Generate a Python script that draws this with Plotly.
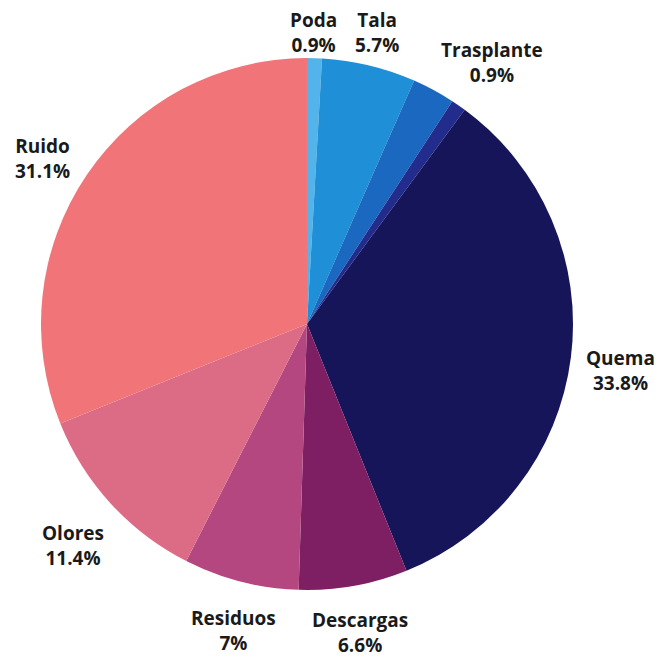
import plotly.graph_objects as go

# Data (clockwise from 12 o'clock)
labels = ["Poda", "Tala", "Otro", "Trasplante", "Quema", "Descargas", "Residuos", "Olores", "Ruido"]
values = [0.9, 5.7, 2.6, 0.9, 33.8, 6.6, 7.0, 11.4, 31.1]
value_text = ["0.9%", "5.7%", "", "0.9%", "33.8%", "6.6%", "7%", "11.4%", "31.1%"]
colors = ["#52B4EA", "#1F8FD8", "#1A68C0", "#222C8C", "#17155A",
          "#7E1F63", "#B4477F", "#DC6B86", "#F17479"]

W, H = 661, 663

fig = go.Figure(go.Pie(
    labels=labels,
    values=values,
    sort=False,
    direction="clockwise",
    rotation=0,
    marker=dict(colors=colors, line=dict(width=0)),
    textinfo="none",
    hoverinfo="label+percent",
    showlegend=False,
    domain=dict(x=[41 / W, 573 / W], y=[1 - 591 / H, 1 - 57 / H]),
))

# label placement (pixel centres), style only
label_pos = {
    "Poda": (313, 32),
    "Tala": (377, 32),
    "Trasplante": (492, 62),
    "Quema": (620, 370),
    "Descargas": (360, 632),
    "Residuos": (233, 630),
    "Olores": (73, 545),
    "Ruido": (42, 158),
}

annotations = []
for lab, vt in zip(labels, value_text):
    if lab not in label_pos:
        continue
    px, py = label_pos[lab]
    annotations.append(dict(
        x=px / W, y=1 - py / H, xref="paper", yref="paper",
        text=f"<b>{lab}</b><br><b>{vt}</b>",
        showarrow=False, align="center", xanchor="center", yanchor="middle",
        font=dict(family="Open Sans", size=19, color="#1a1a1a"),
    ))

fig.update_layout(
    width=W, height=H,
    margin=dict(l=0, r=0, t=0, b=0),
    paper_bgcolor="white",
    plot_bgcolor="white",
    annotations=annotations,
)

fig.write_html(
    "out.html",
    config={"displayModeBar": False},
    post_script="document.body.style.margin='0';document.body.style.overflow='hidden';",
)
